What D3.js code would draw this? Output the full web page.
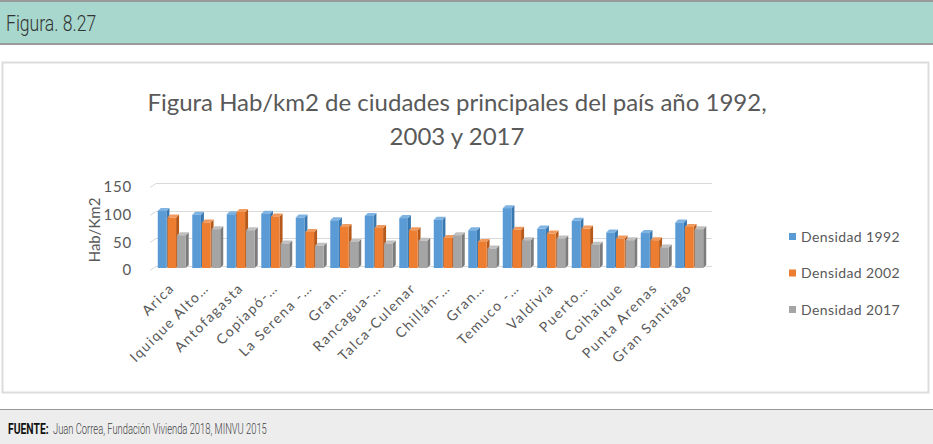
<!DOCTYPE html>
<html>
<head>
<meta charset="utf-8">
<script src="https://cdn.jsdelivr.net/npm/d3@7"></script>
<style>
  body { margin: 0; background: #fff; }
  svg { display: block; }
</style>
</head>
<body>
<div id="chart"></div>
<script>
// DATA -----------------------------------------------------------------
const ciudades = ["Arica", "Iquique Alto…", "Antofagasta", "Copiapó-…", "La Serena -…",
  "Gran…", "Rancagua-…", "Talca-Culenar", "Chillán-…", "Gran…", "Temuco -…",
  "Valdivia", "Puerto…", "Coihaique", "Punta Arenas", "Gran Santiago"];
const densidad1992 = [105, 98, 99, 100, 93, 88, 96, 92, 89, 70, 110, 73, 87, 66, 65, 84];
const densidad2002 = [93, 84, 103, 95, 67, 76, 74, 70, 56, 49, 71, 64, 73, 55, 52, 76];
const densidad2017 = [61, 72, 70, 46, 42, 49, 46, 51, 61, 37, 52, 55, 44, 52, 39, 72];
const seriesNames = ["Densidad 1992", "Densidad 2002", "Densidad 2017"];
const yTicks = [0, 50, 100, 150];

// CHART INIT -----------------------------------------------------------
const width = 933, height = 444;
const colors = ["#5b9bd5", "#ed7d31", "#a5a5a5"];
const sideColors = ["#3a78b0", "#b65a1c", "#7c7c7c"];
const topColors = ["#7fb3e2", "#f29a5e", "#c0c0c0"];
const depth = 3;

const svg = d3.select('#chart')
  .append('svg')
  .attr('width', width)
  .attr('height', height);

// header bar
svg.append('rect').attr('x', 0).attr('y', 0).attr('width', width).attr('height', 45).attr('fill', '#999');
svg.append('rect').attr('x', 0).attr('y', 2).attr('width', width).attr('height', 41).attr('fill', '#a8d8cd');
svg.append('text')
  .attr('transform', 'translate(6,31) scale(0.8,1)')
  .attr('font-family', 'Roboto, sans-serif')
  .attr('font-weight', 300)
  .attr('font-size', 22)
  .attr('fill', '#333')
  .text('Figura. 8.27');

// chart frame
svg.append('rect')
  .attr('x', 2.5).attr('y', 62.5).attr('width', 926).attr('height', 330)
  .attr('fill', '#fff').attr('stroke', '#dcdcdc').attr('stroke-width', 2);

// footer
svg.append('rect').attr('x', 0).attr('y', 409).attr('width', width).attr('height', 35).attr('fill', '#ededed');
svg.append('line').attr('x1', 0).attr('x2', width).attr('y1', 409.5).attr('y2', 409.5).attr('stroke', '#999');
svg.append('text')
  .attr('transform', 'translate(8,434) scale(0.74,1)')
  .attr('font-family', 'Roboto, sans-serif')
  .attr('font-size', 14)
  .attr('font-weight', 'bold')
  .attr('fill', '#111')
  .text('FUENTE:');
svg.append('text')
  .attr('transform', 'translate(53,434) scale(0.67,1)')
  .attr('font-family', 'Roboto, sans-serif')
  .attr('font-size', 14)
  .attr('font-weight', 300)
  .attr('fill', '#444')
  .text('Juan Correa, Fundación Vivienda 2018, MINVU 2015');

// title
const title = svg.append('text')
  .attr('text-anchor', 'middle')
  .attr('font-family', 'Lato, sans-serif')
  .attr('font-size', 24)
  .attr('fill', '#595959');
title.append('tspan').attr('x', 457).attr('y', 111).text('Figura Hab/km2 de ciudades principales del país año 1992,');
title.append('tspan').attr('x', 457).attr('y', 145).text('2003 y 2017');

// scales
const xScale = d3.scaleBand()
  .domain(ciudades.map((d, i) => i))
  .range([155, 707])
  .paddingInner(0.16)
  .paddingOuter(0.08);

const xSub = d3.scaleBand()
  .domain([0, 1, 2])
  .range([0, xScale.bandwidth()]);

const yScale = d3.scaleLinear()
  .domain([0, 150])
  .range([266, 183]);

// gridlines (back wall + side wall stub)
const grid = svg.append('g');
yTicks.forEach(t => {
  const y = Math.round(yScale(t)) + 0.5;
  grid.append('line')
    .attr('x1', 156).attr('x2', 712)
    .attr('y1', y).attr('y2', y)
    .attr('stroke', '#d9d9d9');
  grid.append('line')
    .attr('x1', 150).attr('x2', 156)
    .attr('y1', y + 4).attr('y2', y)
    .attr('stroke', '#d9d9d9');
});

// y axis labels
svg.append('g')
  .selectAll('text')
  .data(yTicks)
  .join('text')
  .attr('x', 132)
  .attr('y', d => yScale(d) + 4)
  .attr('dy', '0.35em')
  .attr('text-anchor', 'end')
  .attr('font-family', 'Lato, sans-serif')
  .attr('font-size', 15)
  .attr('letter-spacing', 0.8)
  .attr('fill', '#595959')
  .text(d => d);

svg.append('text')
  .attr('transform', 'translate(100,230) rotate(-90)')
  .attr('text-anchor', 'middle')
  .attr('font-family', 'Lato, sans-serif')
  .attr('font-size', 15)
  .attr('fill', '#595959')
  .text('Hab/Km2');

// bars (3D look)
const allSeries = [densidad1992, densidad2002, densidad2017];
const barW = xSub.bandwidth() - 1;
const y0 = yScale(0) + 2;

const groups = svg.append('g')
  .selectAll('g')
  .data(ciudades.map((c, i) => i))
  .join('g')
  .attr('transform', i => 'translate(' + xScale(i) + ',0)');

groups.each(function(i) {
  const g = d3.select(this);
  allSeries.forEach((vals, s) => {
    const x = xSub(s);
    const yTop = yScale(vals[i]) + depth;
    // side face
    g.append('path')
      .attr('d', 'M' + (x + barW) + ',' + yTop +
        'L' + (x + barW + depth) + ',' + (yTop - depth) +
        'L' + (x + barW + depth) + ',' + (y0 - depth) +
        'L' + (x + barW) + ',' + y0 + 'Z')
      .attr('fill', sideColors[s]);
    // top face
    g.append('path')
      .attr('d', 'M' + x + ',' + yTop +
        'L' + (x + depth) + ',' + (yTop - depth) +
        'L' + (x + barW + depth) + ',' + (yTop - depth) +
        'L' + (x + barW) + ',' + yTop + 'Z')
      .attr('fill', topColors[s]);
    // front face
    g.append('rect')
      .attr('x', x)
      .attr('y', yTop)
      .attr('width', barW)
      .attr('height', y0 - yTop)
      .attr('fill', colors[s]);
  });
});

// category labels
svg.append('g')
  .selectAll('text')
  .data(ciudades)
  .join('text')
  .attr('transform', (d, i) => 'translate(' + (xScale(i) + xScale.bandwidth() / 2 + 3) + ',289) rotate(-45)')
  .attr('text-anchor', 'end')
  .attr('font-family', 'Lato, sans-serif')
  .attr('font-size', 14)
  .attr('letter-spacing', 1.5)
  .attr('fill', '#595959')
  .text(d => d);

// legend
const legend = svg.append('g')
  .selectAll('g')
  .data(seriesNames)
  .join('g')
  .attr('transform', (d, i) => 'translate(789,' + (237 + i * 36.5) + ')');

legend.append('rect')
  .attr('x', 0).attr('y', -4)
  .attr('width', 7).attr('height', 7)
  .attr('fill', (d, i) => colors[i]);

legend.append('text')
  .attr('x', 12)
  .attr('dy', '0.35em')
  .attr('font-family', 'Lato, sans-serif')
  .attr('font-size', 14)
  .attr('letter-spacing', 0.4)
  .attr('fill', '#595959')
  .text(d => d);
</script>
</body>
</html>
